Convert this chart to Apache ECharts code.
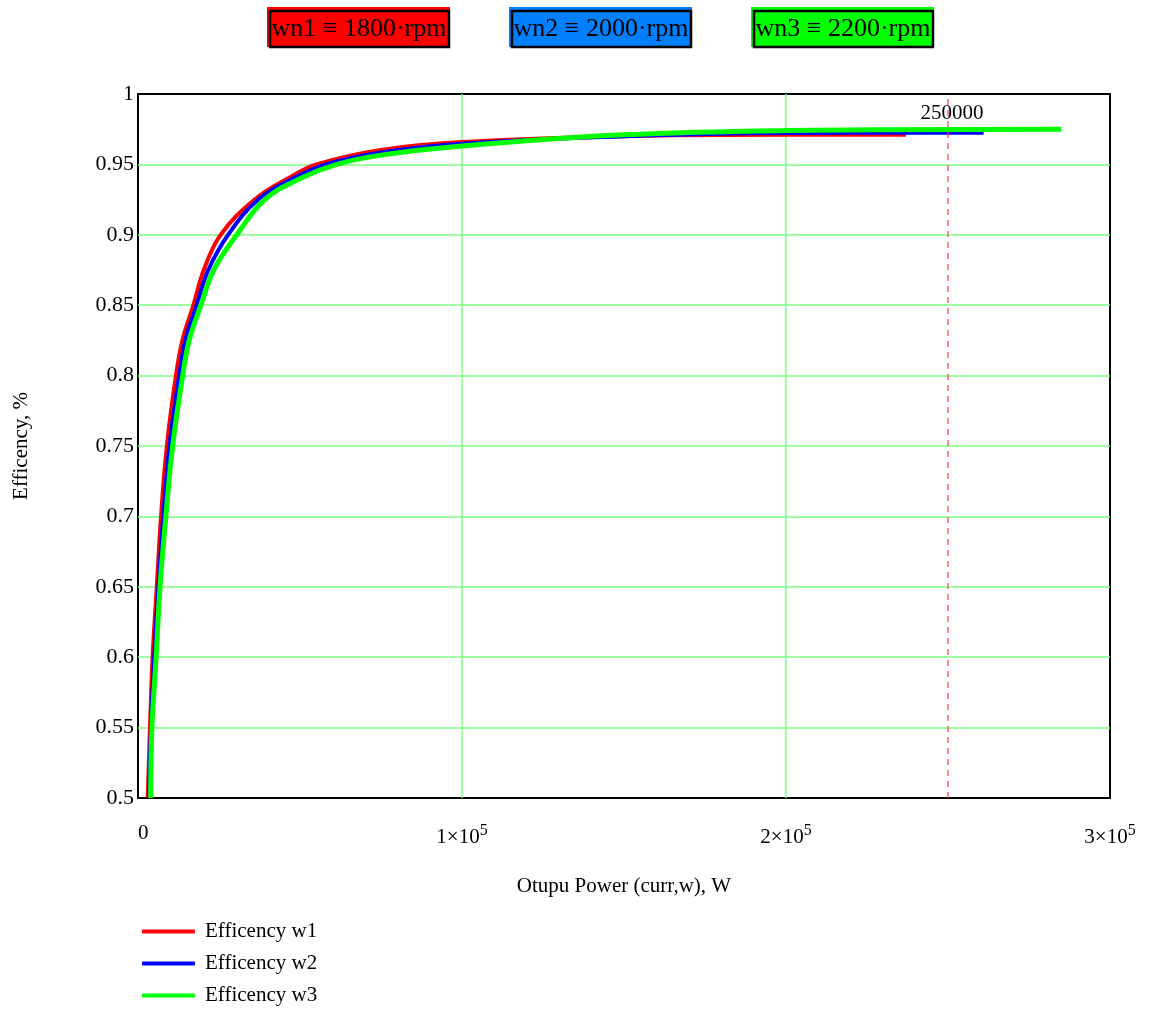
<!DOCTYPE html>
<html>
<head>
<meta charset="utf-8">
<script src="https://cdn.jsdelivr.net/npm/echarts@6/dist/echarts.min.js"></script>
<style>
	html, body { margin: 0; padding: 0; background: #fff; }
	#chart { width: 1149px; height: 1010px; }
</style>
</head>
<body>
<div id="chart"></div>
<script>
	// output power, W  /  efficiency
	let powerW1 = [3000, 3700, 4500, 5800, 7100, 8900, 11700, 13700, 17100, 20300, 25500, 36000, 46200, 55100, 75000, 100000, 150000, 200000, 237000];
	let effW1 = [0.5, 0.55, 0.6, 0.65, 0.7, 0.75, 0.8, 0.825, 0.85, 0.875, 0.9, 0.925, 0.94, 0.95, 0.9603, 0.9659, 0.970, 0.971, 0.971];

	let powerW2 = [3400, 4000, 5000, 6300, 7800, 9700, 12700, 14600, 18100, 21700, 27800, 37100, 47800, 58000, 75000, 100000, 150000, 200000, 261000];
	let effW2 = [0.5, 0.55, 0.6, 0.65, 0.7, 0.75, 0.8, 0.825, 0.85, 0.875, 0.9, 0.925, 0.94, 0.95, 0.9585, 0.9647, 0.970, 0.9723, 0.9725];

	let powerW3 = [3900, 4300, 5600, 6800, 8600, 10700, 13800, 15800, 19400, 23400, 30500, 39100, 50100, 61300, 75000, 100000, 150000, 200000, 285000];
	let effW3 = [0.5, 0.55, 0.6, 0.65, 0.7, 0.75, 0.8, 0.825, 0.85, 0.875, 0.9, 0.925, 0.94, 0.95, 0.9566, 0.9631, 0.971, 0.974, 0.975];

	let seriesNames = ['Efficency w1', 'Efficency w2', 'Efficency w3'];
	let speedLabels = ['wn1 \u2261 1800\u00b7rpm', 'wn2 \u2261 2000\u00b7rpm', 'wn3 \u2261 2200\u00b7rpm'];
	let markPower = 250000;

	const font = '"Liberation Serif", "Times New Roman", serif';
	const colors = ['#ff0000', '#0000ff', '#00ff00'];
	const boxColors = ['#ff0000', '#0080ff', '#00ff00'];

	function zip(xs, ys) {
		return xs.map((x, i) => [x, ys[i]]);
	}

	let lines = [zip(powerW1, effW1), zip(powerW2, effW2), zip(powerW3, effW3)];

	let series = lines.map((data, i) => ({
		type: 'line',
		name: seriesNames[i],
		data: data,
		showSymbol: false,
		symbol: 'none',
		smooth: 0.4,
		lineStyle: {
			color: colors[i],
			width: i == 2 ? 5 : 4,
		},
		itemStyle: { color: colors[i] },
		z: 3 + i,
	}));

	// dashed marker at 250000
	series[0].markLine = {
		silent: true,
		symbol: 'none',
		lineStyle: {
			color: 'rgba(255, 60, 60, 0.8)',
			type: [6, 5],
			width: 1.5,
		},
		label: {
			show: true,
			position: 'end',
			distance: -30,
			formatter: String(markPower),
			color: '#000',
			fontFamily: font,
			fontSize: 21,
			padding: [0, 0, 0, 8],
		},
		data: [{ xAxis: markPower }],
	};

	// the three speed boxes at the top
	let boxLeft = [267, 509, 751];
	let boxes = speedLabels.map((txt, i) => ({
		type: 'group',
		left: boxLeft[i],
		top: 7,
		children: [{
				type: 'rect',
				shape: { x: 0, y: 0, width: 183, height: 40 },
				style: { fill: boxColors[i] },
			},
			{
				type: 'rect',
				shape: { x: 3, y: 4, width: 179, height: 36 },
				style: { fill: null, stroke: '#000', lineWidth: 2.5 },
			},
			{
				type: 'text',
				x: 92,
				y: 22,
				style: {
					text: txt,
					font: '26px ' + font,
					fill: '#000',
					align: 'center',
					verticalAlign: 'middle',
				},
			},
		],
	}));

	let option = {
		backgroundColor: '#fff',
		animation: false,
		grid: {
			left: 138,
			right: 39,
			top: 94,
			bottom: 212,
			show: true,
			borderColor: '#000',
			borderWidth: 2,
			backgroundColor: 'transparent',
		},
		legend: {
			orient: 'vertical',
			left: 142,
			top: 921,
			padding: 0,
			icon: 'roundRect',
			itemWidth: 53,
			itemHeight: 4,
			itemGap: 11,
			data: seriesNames,
			textStyle: {
				fontFamily: font,
				fontSize: 21,
				lineHeight: 21,
				color: '#000',
				padding: [0, 0, 0, 5],
			},
		},
		xAxis: {
			type: 'value',
			min: 0,
			max: 300000,
			interval: 100000,
			name: 'Otupu Power (curr,w), W',
			nameLocation: 'middle',
			nameGap: 78,
			nameTextStyle: { fontFamily: font, fontSize: 21, color: '#000' },
			axisLine: { show: false },
			axisTick: { show: false },
			splitLine: {
				show: true,
				showMinLine: false,
				showMaxLine: false,
				lineStyle: { color: '#80ff80', width: 1.5 }
			},
			axisLabel: {
				margin: 25,
				alignMinLabel: 'left',
				fontFamily: font,
				fontSize: 21,
				color: '#000',
				formatter: function(v) {
					if (v == 0) return '0';
					return (v / 100000) + '\u00d710{sup|5}';
				},
				rich: {
					sup: {
						fontFamily: font,
						fontSize: 16,
						color: '#000',
						verticalAlign: 'bottom',
						padding: [0, 0, 12, 0],
					},
				},
			},
		},
		yAxis: {
			type: 'value',
			min: 0.5,
			max: 1,
			interval: 0.05,
			name: 'Efficency, %',
			nameLocation: 'middle',
			nameGap: 106,
			nameRotate: 90,
			nameTextStyle: { fontFamily: font, fontSize: 21, color: '#000' },
			axisLine: { show: false },
			axisTick: { show: false },
			splitLine: {
				show: true,
				showMinLine: false,
				showMaxLine: false,
				lineStyle: { color: '#80ff80', width: 1.5 }
			},
			axisLabel: {
				margin: 4,
				fontFamily: font,
				fontSize: 22,
				color: '#000',
				formatter: function(v) {
					return String(parseFloat(v.toFixed(2)));
				},
			},
		},
		graphic: boxes,
		series: series,
	};

	let chart = echarts.init(document.getElementById('chart'));
	chart.setOption(option);
	window.addEventListener('resize', function() {
		chart.resize();
	});
</script>
</body>
</html>
